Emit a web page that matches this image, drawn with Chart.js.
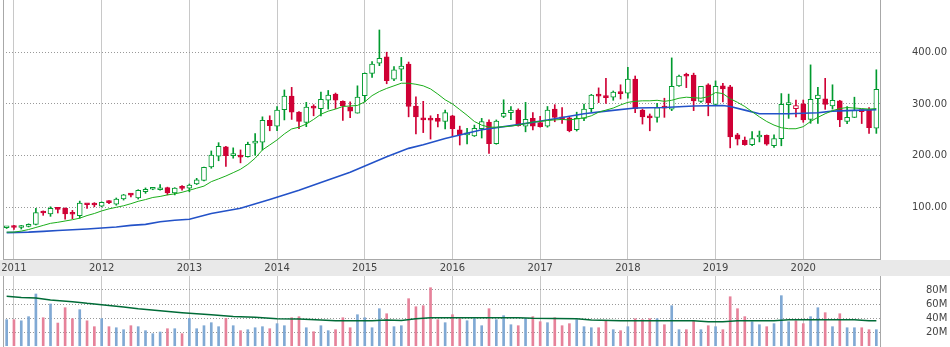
<!DOCTYPE html>
<html>
<head>
<meta charset="utf-8">
<script src="https://cdn.jsdelivr.net/npm/chart.js@4.4.1/dist/chart.umd.min.js"></script>
<style>
  html, body { margin: 0; padding: 0; background: #fff; }
  #wrap { position: relative; width: 950px; height: 347px; overflow: hidden; }
  #franja { position: absolute; left: 0; top: 260px; width: 950px; height: 16px; background: #e9e9e9; }
  #precio { position: absolute; left: 0; top: 0; }
  #volumen { position: absolute; left: 0; top: 276px; }
</style>
</head>
<body>
<div id="wrap">
  <div id="franja"></div>
  <canvas id="precio" width="950" height="276"></canvas>
  <canvas id="volumen" width="950" height="71"></canvas>
</div>
<script>
// velas mensuales, dic 2010 - nov 2020
const meses = [];
for (let a = 2010; a <= 2020; a++) {
  for (let m = 1; m <= 12; m++) {
    if ((a === 2010 && m < 12) || (a === 2020 && m > 11)) continue;
    meses.push(a + '-' + String(m).padStart(2, '0'));
  }
}

const apertura = [
  60.5,
  61.5, 61, 63, 67, 90, 87, 99, 98, 88, 84, 106, 106,
  102, 110, 106, 116, 124, 118, 130, 135, 134, 138, 128, 137.5,
  137, 145, 152, 178, 199, 217, 200, 201, 198, 224, 226, 268,
  257, 289, 315, 284, 264, 295, 291, 307, 319, 305, 294, 282,
  316, 359, 379, 391, 348, 367, 377, 296, 270, 269.5, 272, 266,
  277, 250, 240, 238, 252, 265, 223, 276, 283, 288, 257, 272,
  264, 257, 290, 275, 273, 250, 272, 291, 318, 316, 313, 321,
  321, 348, 288, 274, 274, 296, 290, 335, 355, 356, 305, 337,
  299, 335, 333, 240, 230, 221, 236, 239, 219, 233, 298.5, 291,
  300, 270, 310, 310, 296, 306, 266, 274, 288, 288, 253
];
const maximo = [
  62,
  65, 65, 68, 98, 93, 101, 100, 99, 94, 112, 106.5, 109,
  110.5, 113, 118, 125, 126.5, 134, 137.5, 138, 144, 139, 138, 142,
  145, 156, 178, 209, 225, 218, 215, 211, 226, 242.5, 275, 277,
  295, 327, 332, 285, 303, 298.5, 323, 326, 321, 306, 304, 335,
  360, 382, 443, 400, 372, 390, 381, 313.5, 305, 277, 280, 288,
  278, 257, 253, 259, 272, 269, 269, 308, 295, 290.5, 303, 283,
  276, 295, 298.5, 293, 274, 284, 299.5, 318.5, 331, 349.5, 325, 337,
  371, 354, 290, 280.5, 301, 311, 389, 356, 359.5, 359.5, 334, 339,
  344.5, 340, 336, 243, 236, 246.5, 247.5, 240, 240, 320, 319, 307.5,
  307.5, 375.5, 332, 349.5, 337, 307, 295, 313, 288.5, 293, 366
];
const minimo = [
  59,
  57, 58, 62, 66, 84.5, 82.5, 89, 77, 78, 79, 98, 101,
  101, 107, 104, 114, 120, 116, 127, 134, 133, 124, 124, 133,
  130, 144, 151, 175.5, 190, 179, 195, 186, 197, 201, 211, 248,
  248, 269, 270, 252, 256, 277, 277, 290, 291, 268, 273.5, 282,
  304, 351, 374, 339, 345, 345, 275, 242, 244.5, 232, 255.5, 251.5,
  237, 220.5, 222.5, 237, 234, 204, 222, 273.5, 269.5, 257, 246, 249.5,
  255, 255, 265.5, 262.5, 246, 247.5, 267.5, 285, 302.5, 301, 307, 309.5,
  311, 283, 261, 248, 264.5, 274, 287, 334, 331.5, 287, 303, 277,
  298, 304, 215, 220.5, 220, 219, 226.5, 220, 216, 219, 272, 275,
  264.5, 262.5, 262.5, 289.5, 290, 256, 262, 273.5, 262, 243, 243
];
const cierre = [
  61.5,
  61, 62, 67, 90, 89, 98, 96, 87, 86.5, 108, 105, 104.5,
  109.5, 109, 116, 124, 123.5, 133, 135, 136, 137.5, 128, 137, 136.5,
  143, 153, 177.5, 201, 218, 200, 202, 197, 222, 225, 268, 258,
  288, 315, 284, 266, 294, 292, 309, 317, 307, 296, 286, 313,
  359, 377, 388, 345, 366, 373, 295, 275, 269, 268.5, 266, 283,
  252, 240, 242, 253, 266, 223, 267, 282, 288, 258, 270, 257,
  256, 288, 274, 271, 248, 272, 290, 317, 315, 312, 323, 320,
  348, 291, 275, 273, 293, 292, 334, 354, 353.5, 306, 334, 302,
  334, 329, 236, 232, 221, 233, 238, 222, 233, 299, 300, 297,
  269, 309, 317, 299, 307, 269, 274, 288, 285, 254, 328
];
// volumen en millones
const volumen = [
  37.6,
  37.6, 36, 41.9, 74.3, 40.4, 60, 32.8, 54.7, 39, 51.9, 36, 27.6,
  39, 27.6, 26.1, 23.3, 29, 27.6, 21.9, 17.6, 20, 24.7, 24.7, 17.6,
  39.5, 24.7, 29, 33.3, 27.6, 39.5, 29, 21.9, 23.3, 26.1, 27.6, 24.7,
  31.9, 29, 40.4, 41.9, 26.1, 20.4, 29, 21.9, 23.3, 40.4, 26.1, 44.7,
  40.4, 26.1, 53.3, 46.1, 27.6, 29, 67.6, 56.1, 57.6, 83.3, 37.6, 33.3,
  44.7, 39, 36.1, 39, 29, 53.3, 37.6, 43.3, 30.4, 29, 39, 41.9,
  34.7, 33.3, 40.4, 29, 31.9, 37.6, 27.6, 26.1, 26.1, 36.1, 23.3, 21.9,
  27.6, 39, 37.6, 39, 39, 30.4, 57.6, 23.3, 23.3, 35.2, 23.3, 29,
  27.6, 23.3, 70.4, 53.3, 41.9, 34.7, 30.4, 27.6, 31.9, 71.9, 34.7, 36.1,
  31.9, 41.9, 54.7, 47.6, 27.6, 46.1, 26.1, 26.1, 26.1, 23.3, 23.3
];

// medias móviles: [índice de mes, valor]
const mediaCorta = [
  52, 52, 54, 57, 61, 65, 69, 71, 73.5, 76, 79, 84, 88,
  93, 97, 100, 103, 107, 111.6, 115, 119, 121, 124, 126, 129,
  133, 137, 141, 149.6, 155, 160.6, 167, 173.6, 183, 195, 211, 220.6,
  230.3, 242, 251.6, 255, 261, 270, 280, 286, 290, 295, 296, 297,
  304, 316, 324, 330, 335, 340, 340, 338, 335, 329, 319, 308,
  300, 289, 278, 266, 259, 255, 255, 256, 257, 259, 262, 265,
  266, 268, 269, 270, 269, 271, 273, 277, 284, 288, 292, 298,
  303, 305, 306, 306, 307, 305, 307, 311, 313, 312, 311, 314,
  322, 320, 310, 303, 295, 285, 275, 266, 259, 254, 252, 252,
  256, 266, 274, 281, 287, 291, 293, 292, 291, 290, 291
];
const mediaLarga = [
  [0, 51], [3, 52], [5, 53.5], [7, 55], [9, 56.5], [11, 58], [13, 60], [15, 62],
  [17, 65], [19, 67], [21, 72], [23, 75], [25, 77], [28, 88], [32, 98], [36, 115],
  [40, 133], [43, 148], [47, 168], [52, 198], [55, 214], [57, 221], [60, 233],
  [62, 240], [65, 250], [70, 260], [74, 269], [79, 281], [82, 286], [86, 292],
  [90, 293], [94, 296], [98, 297], [99, 295], [101, 288], [103, 281], [107, 281],
  [111, 283], [113, 286], [117, 288], [119, 289]
];
const mediaVolumen = [
  [0, 70.9], [2, 69.4], [4, 68.6], [6, 65.7], [9, 63.3], [11, 60.9], [14, 58],
  [16, 55.7], [18, 53.3], [21, 50.4], [24, 47.6], [28, 44.7], [31, 42.3], [34, 40.9],
  [37, 39], [40, 38.6], [43, 37.1], [45, 36.1], [50, 36.1], [52, 37.1], [54, 36.5],
  [56, 39], [58, 40.4], [70, 40.4], [72, 39.5], [78, 39], [80, 37.1], [84, 36.1],
  [94, 36.1], [96, 34.7], [98, 34.7], [100, 36.1], [105, 36.1], [107, 37.6],
  [116, 37.6], [118, 36.1], [119, 36.1]
];

const ticksPrecio = [100, 200, 300, 400];
const ticksVolumen = [20, 40, 60, 80];

const VERDE = '#009a2e';
const ROJO = '#cf0035';
const AZUL_VOL = '#80a9d4';
const ROSA_VOL = '#e6829a';
const GRIS_LINEA = '#c8c8c8';
const GRIS_BORDE = '#a8a8a8';
const fuente = { family: 'DejaVu Sans', size: 10 };

// sube si cierra por encima del cierre anterior
const sube = cierre.map((c, i) => c >= (i ? cierre[i - 1] : apertura[i]));
const colorVela = sube.map(s => s ? VERDE : ROJO);
const esEnero = i => meses[i] !== undefined && meses[i].endsWith('-01');
const aPuntos = pares => pares.map(([i, v]) => ({ x: meses[i], y: v }));

const gridAnual = {
  offset: false,
  drawTicks: false,
  color: c => esEnero(c.index) ? GRIS_LINEA : 'rgba(0,0,0,0)'
};
const bordeIzq = {
  position: 'left',
  grid: { display: false },
  ticks: { display: false },
  border: { display: true, color: GRIS_BORDE },
  afterFit: s => { s.width = 3; s.paddingTop = 0; s.paddingBottom = 0; }
};
const sinPadding = s => { s.paddingTop = 0; s.paddingBottom = 0; s.paddingLeft = 0; s.paddingRight = 0; };

const opcionesBase = {
  responsive: false,
  maintainAspectRatio: false,
  animation: false,
  events: [],
  layout: { padding: 0 },
  plugins: { legend: { display: false }, tooltip: { enabled: false } }
};

new Chart(document.getElementById('precio'), {
  type: 'bar',
  data: {
    labels: meses,
    datasets: [
      {
        type: 'line',
        data: mediaCorta,
        borderColor: '#1aad1a',
        borderWidth: 1,
        pointRadius: 0,
        order: 0
      },
      {
        type: 'line',
        data: aPuntos(mediaLarga),
        borderColor: '#2352c8',
        borderWidth: 1.6,
        pointRadius: 0,
        spanGaps: true,
        order: 0
      },
      {
        // cuerpo de la vela
        data: meses.map((m, i) => [apertura[i], cierre[i]]),
        backgroundColor: meses.map((m, i) => cierre[i] > apertura[i] ? '#ffffff' : colorVela[i]),
        borderColor: colorVela,
        borderWidth: 1,
        borderSkipped: false,
        barThickness: 5,
        minBarLength: 2,
        grouped: false,
        order: 1
      },
      {
        // mecha
        data: meses.map((m, i) => [minimo[i], maximo[i]]),
        backgroundColor: colorVela,
        borderWidth: 0,
        barThickness: 1,
        grouped: false,
        order: 2
      }
    ]
  },
  options: {
    ...opcionesBase,
    scales: {
      x: {
        offset: true,
        grid: gridAnual,
        border: { display: true, color: GRIS_BORDE },
        ticks: {
          autoSkip: false,
          maxRotation: 0,
          padding: 3,
          color: '#444',
          font: fuente,
          callback: (v, i) => esEnero(i) ? meses[i].slice(0, 4) : ''
        },
        afterFit: s => { sinPadding(s); s.height = 17; }
      },
      y: {
        position: 'right',
        min: 0,
        max: 501,
        afterBuildTicks: s => { s.ticks = ticksPrecio.map(v => ({ value: v })); },
        grid: { color: '#999', drawTicks: false },
        border: { display: true, color: GRIS_BORDE, dash: [1, 2] },
        ticks: { padding: 32, color: '#444', font: fuente, callback: v => v.toFixed(2) },
        afterFit: s => { sinPadding(s); s.width = 70; }
      },
      izq: bordeIzq
    }
  }
});

new Chart(document.getElementById('volumen'), {
  type: 'bar',
  data: {
    labels: meses,
    datasets: [
      {
        type: 'line',
        data: aPuntos(mediaVolumen),
        borderColor: '#006b37',
        borderWidth: 1.5,
        pointRadius: 0,
        spanGaps: true,
        order: 0
      },
      {
        data: volumen,
        backgroundColor: sube.map(s => s ? AZUL_VOL : ROSA_VOL),
        barThickness: 2,
        order: 1
      }
    ]
  },
  options: {
    ...opcionesBase,
    layout: { padding: { bottom: 1 } },
    scales: {
      x: {
        offset: true,
        grid: gridAnual,
        border: { display: false },
        ticks: { display: false },
        afterFit: s => { sinPadding(s); s.height = 0; }
      },
      y: {
        position: 'right',
        min: 0,
        max: 100,
        afterBuildTicks: s => { s.ticks = ticksVolumen.map(v => ({ value: v })); },
        grid: { color: '#999', drawTicks: false },
        border: { display: true, color: GRIS_BORDE, dash: [1, 2] },
        ticks: { padding: 46, color: '#444', font: fuente, callback: v => v + 'M' },
        afterFit: s => { sinPadding(s); s.width = 70; }
      },
      izq: bordeIzq
    }
  }
});
</script>
</body>
</html>
